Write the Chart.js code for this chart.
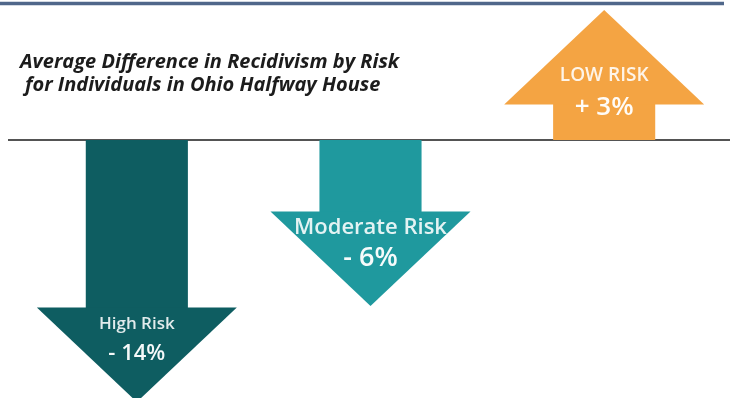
<!DOCTYPE html>
<html>
<head>
<meta charset="utf-8">
<script src="https://cdn.jsdelivr.net/npm/chart.js@4.4.1/dist/chart.umd.min.js"></script>
<style>
  html, body { margin: 0; padding: 0; background: #fff; }
  #wrap { width: 730px; height: 398px; }
</style>
</head>
<body>
<div id="wrap"><canvas id="riskChart"></canvas></div>
<script>
const categories = ['High Risk', 'Moderate Risk', 'LOW RISK']
const changes = [-14, -6, 3]
const changeLabels = ['- 14%', '- 6%', '+ 3%']
const titleLines = ['Average Difference in Recidivism by Risk', 'for Individuals in Ohio Halfway House']

const arrowColors = ['#0e5d61', '#1f999e', '#f4a443']
const nameFonts = [17, 22, 19]
const valueFonts = [22, 27, 26]

// arrow heads + labels drawn on top of the bars (the bars are the shafts)
const arrowPlugin = {
  id: 'arrows',
  beforeDatasetsDraw(chart) {
    const ctx = chart.ctx
    const y0 = chart.scales.y.getPixelForValue(0)
    ctx.save()
    // top rule
    ctx.strokeStyle = '#50678a'
    ctx.lineWidth = 3.5
    ctx.beginPath()
    ctx.moveTo(0, 3.5)
    ctx.lineTo(724, 3.5)
    ctx.stroke()
    // zero line
    ctx.strokeStyle = '#1a1a1a'
    ctx.lineWidth = 1.5
    ctx.beginPath()
    ctx.moveTo(8, y0)
    ctx.lineTo(730, y0)
    ctx.stroke()
    ctx.restore()
  },
  afterDatasetsDraw(chart) {
    const ctx = chart.ctx
    const meta = chart.getDatasetMeta(0)
    const headLen = 94
    const halfW = 100
    ctx.save()
    meta.data.forEach((bar, i) => {
      const dir = changes[i] < 0 ? 1 : -1
      const x = bar.x
      const y = bar.y - dir * 0.5
      ctx.fillStyle = arrowColors[i]
      ctx.beginPath()
      ctx.moveTo(x - halfW, y)
      ctx.lineTo(x + halfW, y)
      ctx.lineTo(x, bar.y + dir * headLen)
      ctx.closePath()
      ctx.fill()

      ctx.textAlign = 'center'
      ctx.textBaseline = 'middle'
      let nameY, valY
      if (dir > 0) {
        nameY = bar.y + 16
        valY = bar.y + 46
      } else {
        nameY = bar.y - 28
        valY = bar.y + 4
      }
      ctx.fillStyle = 'rgba(255,255,255,0.88)'
      ctx.font = '600 ' + nameFonts[i] + 'px "Open Sans", sans-serif'
      ctx.fillText(categories[i], x, nameY)
      ctx.fillStyle = 'rgba(255,255,255,0.96)'
      ctx.font = '600 ' + valueFonts[i] + 'px "Open Sans", sans-serif'
      ctx.fillText(changeLabels[i], x, valY)
    })
    ctx.restore()
  },
  afterDraw(chart) {
    const ctx = chart.ctx
    ctx.save()
    ctx.fillStyle = '#1c1c1c'
    ctx.textAlign = 'left'
    ctx.textBaseline = 'alphabetic'
    ctx.font = 'italic bold 20px "Open Sans", sans-serif'
    ctx.fillText(titleLines[0], 20, 68)
    ctx.fillText(titleLines[1], 25, 91)
    ctx.restore()
  }
}

const ctx = document.getElementById('riskChart').getContext('2d')
const riskChart = new Chart(ctx, {
  type: 'bar',
  data: {
    labels: categories,
    datasets: [{
      data: changes,
      backgroundColor: arrowColors,
      borderWidth: 0,
      categoryPercentage: 1,
      barPercentage: 0.437
    }]
  },
  options: {
    responsive: true,
    maintainAspectRatio: false,
    animation: false,
    layout: { padding: { left: 20, right: 9, top: 0, bottom: 0 } },
    plugins: {
      legend: { display: false },
      title: { display: false },
      tooltip: { enabled: false }
    },
    scales: {
      x: { display: false },
      y: { display: false, min: -21.5, max: 11.67 }
    }
  },
  plugins: [arrowPlugin]
})
</script>
</body>
</html>
